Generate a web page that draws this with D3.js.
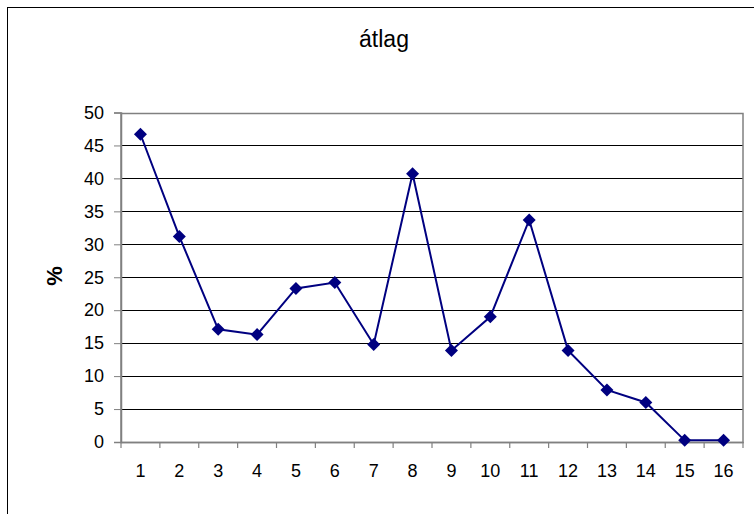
<!DOCTYPE html>
<html><head><meta charset="utf-8">
<script src="https://cdn.jsdelivr.net/npm/d3@7"></script>
<style>body{margin:0;background:#fff}svg{display:block}</style>
</head><body>
<svg id="c" width="754" height="514"></svg>
<script>
const categories = ["1","2","3","4","5","6","7","8","9","10","11","12","13","14","15","16"];
const values = [46.7,31.2,17.1,16.3,23.3,24.2,14.8,40.7,13.9,19.0,33.7,13.9,7.9,6.0,0.25,0.25];
const yTicks = [0,5,10,15,20,25,30,35,40,45,50];
const title = "átlag";
const yLabel = "%";

const svg = d3.select("#c");
const font = "'Liberation Sans', Arial, sans-serif";
const L = 121, R = 743, T = 112.5, B = 442;

svg.append("rect").attr("x",7.5).attr("y",7.5).attr("width",800).attr("height",600)
  .attr("fill","none").attr("stroke","#000").attr("stroke-width",1);

const x = d3.scaleBand().domain(categories).range([L,R]);
const y = d3.scaleLinear().domain([0,50]).range([B,T]);

// gridlines
svg.append("g").selectAll("line").data(yTicks.filter(d=>d>0&&d<50)).join("line")
  .attr("x1",L).attr("x2",R).attr("y1",d=>Math.round(y(d))+0.5).attr("y2",d=>Math.round(y(d))+0.5)
  .attr("stroke","#000").attr("stroke-width",1);

// plot border
svg.append("rect").attr("x",L).attr("y",Math.round(T)+0.5).attr("width",R-L).attr("height",B-Math.round(T))
  .attr("fill","none").attr("stroke","#808080").attr("stroke-width",1.5);

// y axis
const ya = svg.append("g").attr("transform",`translate(${L},0)`)
  .call(d3.axisLeft(y).tickValues(yTicks).tickSize(7).tickPadding(10));
ya.select(".domain").attr("stroke","#808080").attr("stroke-width",1.5);
ya.selectAll(".tick line").attr("stroke","#808080");
ya.selectAll("text").attr("font-family",font).attr("font-size",18).attr("fill","#000");

// x axis
const xa = svg.append("g").attr("transform",`translate(0,${B})`)
  .call(d3.axisBottom(x).tickSize(0).tickPadding(22));
xa.select(".domain").attr("stroke","#808080").attr("stroke-width",1.5);
xa.selectAll("text").attr("font-family",font).attr("font-size",18).attr("fill","#000");
// boundary ticks
svg.append("g").selectAll("line").data(categories.concat(["end"])).join("line")
  .attr("x1",(d,i)=>L+i*x.step()).attr("x2",(d,i)=>L+i*x.step())
  .attr("y1",B).attr("y2",B+6).attr("stroke","#808080").attr("stroke-width",1.2);

// line
const cx = d => x(d)+x.bandwidth()/2;
svg.append("path").datum(values)
  .attr("d",d3.line().x((d,i)=>cx(categories[i])).y(d=>y(d)))
  .attr("fill","none").attr("stroke","#000080").attr("stroke-width",2);

// markers
svg.append("g").selectAll("path").data(values).join("path")
  .attr("transform",(d,i)=>`translate(${cx(categories[i])},${y(d)})`)
  .attr("d","M0,-6.5L6.5,0L0,6.5L-6.5,0Z").attr("fill","#000080");

// title
svg.append("text").attr("x",384).attr("y",47).attr("text-anchor","middle")
  .attr("font-family",font).attr("font-size",23).text(title);

// y label
svg.append("text").attr("transform","translate(62,276) rotate(-90)").attr("text-anchor","middle")
  .attr("font-family",font).attr("font-size",22).attr("font-weight","bold").text(yLabel);
</script>
</body></html>
